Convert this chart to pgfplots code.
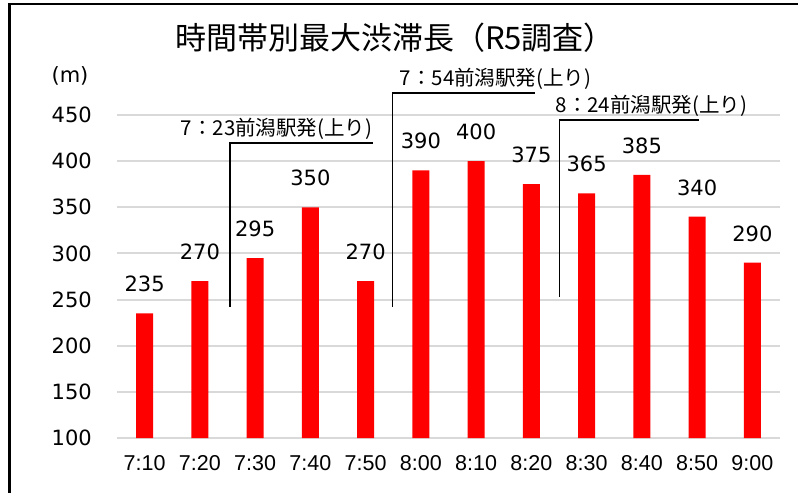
\documentclass[border=0pt]{standalone}
\usepackage{fontspec}
\usepackage{pgfplots}
\pgfplotsset{compat=1.18}
\setmainfont{DejaVu Sans}
\newfontfamily\cjk{Noto Sans CJK JP}
\newfontfamily\arial{Liberation Sans}
\definecolor{gridgray}{HTML}{D9D9D9}

\begin{document}
\begin{tikzpicture}
\useasboundingbox (0,0) rectangle (798bp,-493bp);
% frame (left and top only, picture is cropped)
\draw[line width=2.5bp] (9.5bp,-493bp) -- (9.5bp,-4bp) -- (798bp,-4bp);
\node[font=\cjk\fontsize{31bp}{35bp}\selectfont] at (395bp,-38bp) {時間帯別最大渋滞長（R5調査）};
\node[font=\fontsize{21bp}{25bp}\selectfont] at (70bp,-76bp) {(m)};

\begin{axis}[
	at={(117bp,-438bp)}, anchor=south west,
	scale only axis,
	width=663bp, height=323bp,
	xmin=-0.5, xmax=11.5,
	ymin=100, ymax=450,
	ytick distance=50,
	xtick={0,...,11},
	xticklabels={7:10,7:20,7:30,7:40,7:50,8:00,8:10,8:20,8:30,8:40,8:50,9:00},
	major tick length=0pt,
	axis line style={draw=none},
	ymajorgrids,
	grid style={gridgray, line width=2bp},
	/pgf/number format/assume math mode=true,
	yticklabel style={font=\fontsize{21bp}{25bp}\selectfont, inner sep=0pt, anchor=east, xshift=-25bp},
	xticklabel style={font=\arial\fontsize{21.5bp}{25bp}\selectfont, inner sep=0pt, anchor=north, yshift=-17bp},
	ybar, bar width=17bp, bar shift=0pt,
	clip=false,
	nodes near coords,
	every node near coord/.append style={font=\fontsize{21bp}{25bp}\selectfont, black, anchor=south, inner sep=0pt, yshift=21bp},
]
\addplot[fill=red, draw=none] coordinates {
(0,235) (1,270) (2,295) (3,350) (4,270) (5,390)
(6,400) (7,375) (8,365) (9,385) (10,340) (11,290)
};

% train callouts
\draw[line width=1.7bp] (axis cs:1.54,242) -- (axis cs:1.54,419.7) -- (axis cs:4.125,419.7);
\node[font=\cjk\fontsize{20.5bp}{24bp}\selectfont, anchor=base west, inner sep=0pt] at (axis cs:0.651,427.3) {7：23前潟駅発(上り)};
\draw[line width=1.7bp] (axis cs:4.487,242) -- (axis cs:4.487,474.2) -- (axis cs:7.074,474.2);
\node[font=\cjk\fontsize{20.5bp}{24bp}\selectfont, anchor=base west, inner sep=0pt] at (axis cs:4.614,481.7) {7：54前潟駅発(上り)};
\draw[line width=1.7bp] (axis cs:7.508,252.8) -- (axis cs:7.508,444.6) -- (axis cs:10.04,444.6);
\node[font=\cjk\fontsize{20.5bp}{24bp}\selectfont, anchor=base west, inner sep=0pt] at (axis cs:7.436,452.2) {8：24前潟駅発(上り)};
\end{axis}
\end{tikzpicture}
\end{document}
